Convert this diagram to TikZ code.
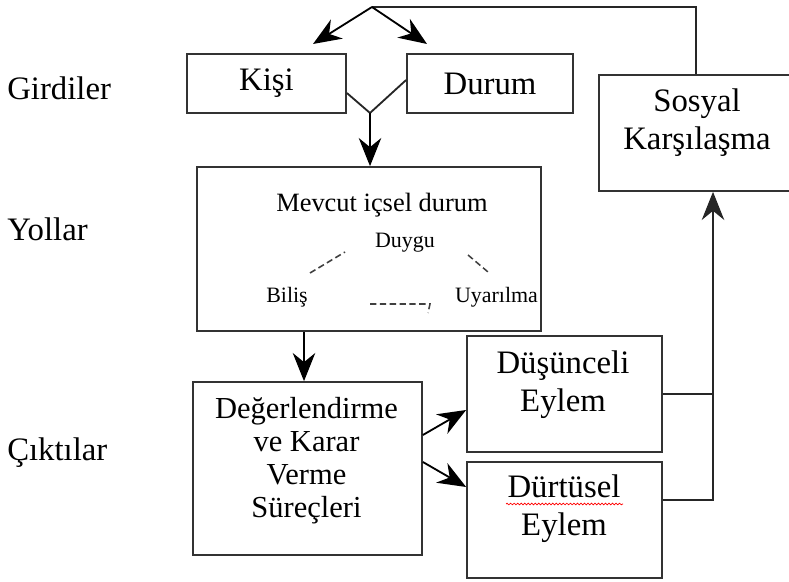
\documentclass[tikz,border=0pt]{standalone}
\usepackage{fontspec}
\setmainfont{Liberation Serif}
\usetikzlibrary{arrows.meta,decorations.pathmorphing}

\tikzset{
  kutu/.style={draw=black!80, line width=1.2pt, inner sep=0pt},
  yazi/.style={inner sep=0pt, align=center, font=\fontsize{23.3}{27}\selectfont},
  orta/.style={inner sep=0pt, font=\fontsize{18.8}{22}\selectfont},
  kucuk/.style={inner sep=0pt, font=\fontsize{15.6}{18}\selectfont},
  ok/.style={-{Stealth[length=20pt,width=16pt,inset=6.5pt]}, line width=1.3pt},
  cizgi/.style={line width=1.3pt, draw=black!85},
  kesik/.style={draw=black!75, line width=1.1pt, dash pattern=on 4.5pt off 2.5pt}
}

\begin{document}
\begin{tikzpicture}[x=0.025cm, y=-0.025cm]
\useasboundingbox (0,0) rectangle (789,582);

% sol basliklar
\node[yazi, anchor=base west] (girdiler) at (7,100) {Girdiler};
\node[yazi, anchor=base west] (yollar) at (7,241) {Yollar};
\node[yazi, anchor=base west] (ciktilar) at (7,461) {Çıktılar};

% kutular
\node[kutu, yazi, minimum width=3.975cm, minimum height=1.475cm] (kisi) at (266.5,83.5) {Kişi};
\node[kutu, yazi, minimum width=4.15cm, minimum height=1.475cm] (durum) at (490,83.5) {Durum};
\node[kutu, minimum width=4.85cm, minimum height=2.9cm] (sosyal) at (696,133) {};
\node[kutu, minimum width=8.6cm, minimum height=4.1cm] (mevcut) at (369,249) {};
\node[kutu, minimum width=5.725cm, minimum height=4.325cm] (deger) at (307.5,468.5) {};
\node[kutu, minimum width=4.875cm, minimum height=2.9cm] (dusunceli) at (564.5,394) {};
\node[kutu, minimum width=4.875cm, minimum height=2.9cm] (durtusel) at (564.5,520) {};

% kutu yazilari
\node[yazi] (sosyalyazi) at (697,123) {Sosyal\\Karşılaşma};
\node[orta, anchor=base] (mevcutyazi) at (382,212) {Mevcut içsel durum};
\node[kucuk, anchor=base] (duygu) at (405,248) {Duygu};
\node[kucuk, anchor=base] (bilis) at (287,303) {Biliş};
\node[kucuk, anchor=base] (uyarilma) at (496.5,303) {Uyarılma};
\node[yazi, font=\fontsize{21.7}{23.5}\selectfont] (degeryazi) at (306.5,461) {Değerlendirme\\ve Karar\\Verme\\Süreçleri};
\node[yazi] (dusunceliyazi) at (563,385) {Düşünceli\\Eylem};
\node[yazi] (durtuselyazi) at (564,509) {Dürtüsel\\Eylem};

% yazim denetimi cizgisi
\draw[red, line width=0.5pt, decorate, decoration={snake, amplitude=0.6pt, segment length=2.5pt}] (506,504) -- (623,504);

% kesikli baglar
\coordinate (b1) at (310,273);
\coordinate (d1) at (345,252);
\coordinate (d2) at (468,255);
\coordinate (u1) at (488,272);
\coordinate (b2) at (370,304);
\coordinate (u2) at (430,304);
\coordinate (u3) at (428,313);
\draw[kesik] (b1) -- (d1);
\draw[kesik] (d2) -- (u1);
\draw[kesik] (b2) -- (u2) -- (u3);

% ust geri bildirim
\coordinate (ayrim) at (372,7);
\coordinate (kisiok) at (313,44);
\coordinate (durumok) at (427,44);
\draw[cizgi] (sosyal.north) |- (ayrim);
\draw[ok] (ayrim) -- (kisiok);
\draw[ok] (ayrim) -- (durumok);

% kisi ve durum birlesimi
\coordinate (birles) at (370,113);
\draw[cizgi] (kisi.east |- 0,93) -- (birles) -- (durum.west |- 0,80);
\draw[ok] (birles) -- (birles |- mevcut.north);

\draw[ok] (mevcut.south -| 304,0) -- (deger.north -| 304,0);
\draw[ok] (deger.east |- 0,435) -- (dusunceli.west |- 0,410);
\draw[ok] (deger.east |- 0,462) -- (durtusel.west |- 0,487);

% eylemlerden sosyal karsilasmaya
\draw[cizgi] (dusunceli.east) -- (dusunceli.east -| 713,0);
\draw[cizgi, ok] (durtusel.east |- 0,500) -| (sosyal.south -| 713,0);
\end{tikzpicture}
\end{document}
